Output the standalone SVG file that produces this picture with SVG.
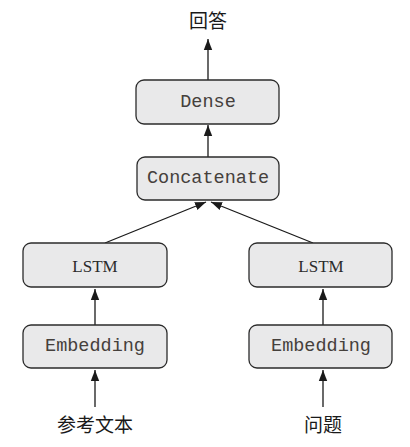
<svg xmlns="http://www.w3.org/2000/svg" width="410" height="447" viewBox="0 0 410 447">
<style>
.box{fill:#e9e9ea;stroke:#2b2b2b;stroke-width:1.3}
.mono{font-family:"Liberation Mono","DejaVu Sans Mono",monospace;font-size:18.5px;fill:#45403c;text-anchor:middle;dominant-baseline:central}
.serif{font-family:"Liberation Serif","Times New Roman",serif;font-size:17px;fill:#2b2b2b;text-anchor:middle;dominant-baseline:central}
.cjk{font-family:"Liberation Serif","Noto Sans CJK SC",serif;font-size:19px;fill:#1a1a1a;text-anchor:middle;dominant-baseline:central}
.edge{stroke:#1a1a1a;stroke-width:1.3;fill:none;marker-end:url(#ah)}
</style>
<defs>
<marker id="ah" viewBox="0 0 10 10" refX="10" refY="5" markerWidth="11" markerHeight="11" markerUnits="userSpaceOnUse" orient="auto">
<path d="M0,1.2 L10,5 L0,8.8 z" fill="#1a1a1a"/>
</marker>
</defs>
<g id="connectors">
<line class="edge" x1="208" y1="80" x2="208" y2="39"/>
<line class="edge" x1="208" y1="157" x2="208" y2="125"/>
<line class="edge" x1="105" y1="243" x2="206" y2="202"/>
<line class="edge" x1="313" y1="243" x2="211" y2="202"/>
<line class="edge" x1="95" y1="325" x2="95" y2="289"/>
<line class="edge" x1="323" y1="325" x2="323" y2="289"/>
<line class="edge" x1="95" y1="407" x2="95" y2="370"/>
<line class="edge" x1="323" y1="407" x2="323" y2="370"/>
</g>
<g id="answer"><text class="cjk" x="208" y="21">回答</text></g>
<g id="dense"><rect class="box" x="136" y="80" width="143" height="44" rx="8"/><text class="mono" x="208" y="102">Dense</text></g>
<g id="concatenate"><rect class="box" x="137" y="157" width="142" height="43" rx="8"/><text class="mono" x="208" y="178.5">Concatenate</text></g>
<g id="lstm_left"><rect class="box" x="23" y="243" width="144" height="44" rx="8"/><text class="serif" x="95" y="266">LSTM</text></g>
<g id="lstm_right"><rect class="box" x="249" y="243" width="143" height="44" rx="8"/><text class="serif" x="321" y="266">LSTM</text></g>
<g id="embedding_left"><rect class="box" x="23" y="325" width="144" height="43" rx="8"/><text class="mono" x="95" y="346.5">Embedding</text></g>
<g id="embedding_right"><rect class="box" x="249" y="325" width="143" height="43" rx="8"/><text class="mono" x="321" y="346.5">Embedding</text></g>
<g id="reference_text"><text class="cjk" x="95" y="425">参考文本</text></g>
<g id="question"><text class="cjk" x="323" y="425">问题</text></g>
</svg>
